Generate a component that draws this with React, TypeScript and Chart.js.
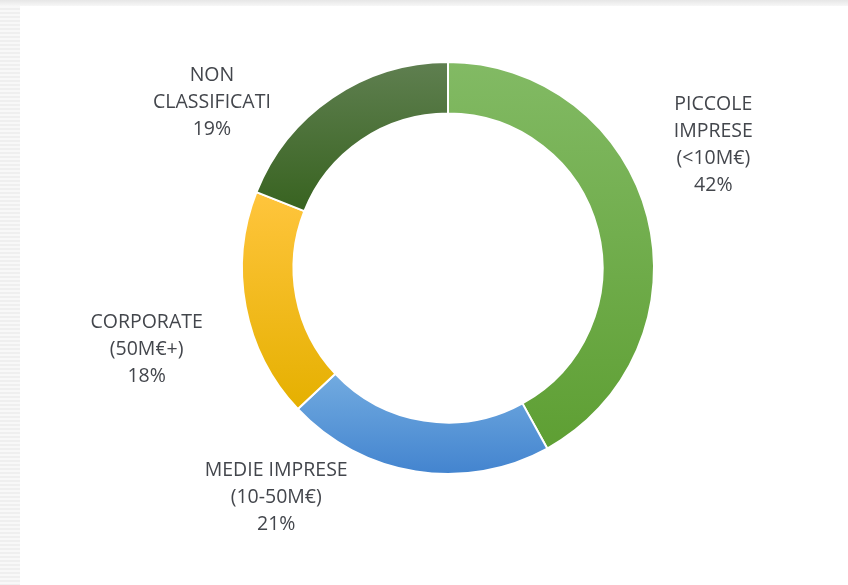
import React, { useEffect, useRef } from "react";
import { Chart, registerables } from "chart.js";

Chart.register(...registerables);

// ---- data ----
const categories: string[][] = [
  ["PICCOLE", "IMPRESE", "(<10M€)"],
  ["MEDIE IMPRESE", "(10-50M€)"],
  ["CORPORATE", "(50M€+)"],
  ["NON", "CLASSIFICATI"],
];
const values: number[] = [42, 21, 18, 19];
const percentLabels: string[] = ["42%", "21%", "18%", "19%"];

// ---- styles ----
const topColors = ["#82ba64", "#72abe0", "#ffc53d", "#5f7f50"];
const bottomColors = ["#5e9f33", "#4384cf", "#e5b000", "#386320"];
// label centre relative to chart centre, in units of outer radius
const labelOffsets: [number, number][] = [
  [1.288, -0.595],
  [-0.834, 1.112],
  [-1.463, 0.395],
  [-1.146, -0.805],
];
const FONT = "19.5px 'Open Sans', 'Noto Sans', sans-serif";
const LINE_H = 27;

const bgPlugin = {
  id: "bg",
  beforeDraw(chart: any) {
    const { ctx, width, height } = chart;
    ctx.save();
    ctx.fillStyle = "#ffffff";
    ctx.fillRect(0, 0, width, height);
    for (let y = 0; y < height; y += 4) {
      ctx.fillStyle = "#efefef";
      ctx.fillRect(0, y, 20, 2);
      ctx.fillStyle = "#f8f8f8";
      ctx.fillRect(0, y + 2, 20, 2);
    }
    const g = ctx.createLinearGradient(0, 0, 0, 6);
    g.addColorStop(0, "#e6e6e6");
    g.addColorStop(1, "#f7f7f7");
    ctx.fillStyle = g;
    ctx.fillRect(0, 0, width, 6);
    ctx.restore();
  },
};

const gradientPlugin = {
  id: "sliceGradient",
  beforeDatasetDraw(chart: any, args: any) {
    const meta = args.meta;
    const ctx = chart.ctx;
    meta.data.forEach((arc: any, i: number) => {
      const { y, startAngle, endAngle, outerRadius, innerRadius } = arc;
      let minY = Infinity;
      let maxY = -Infinity;
      const steps = 60;
      for (let s = 0; s <= steps; s++) {
        const a = startAngle + ((endAngle - startAngle) * s) / steps;
        for (const r of [outerRadius, innerRadius]) {
          const py = y + Math.sin(a) * r;
          minY = Math.min(minY, py);
          maxY = Math.max(maxY, py);
        }
      }
      const g = ctx.createLinearGradient(0, minY, 0, maxY);
      g.addColorStop(0, topColors[i]);
      g.addColorStop(1, bottomColors[i]);
      arc.options.backgroundColor = g;
    });
  },
};

const labelPlugin = {
  id: "sliceLabels",
  afterDatasetsDraw(chart: any) {
    const meta = chart.getDatasetMeta(0);
    const ctx = chart.ctx;
    ctx.save();
    ctx.font = FONT;
    ctx.fillStyle = "#43464c";
    ctx.textAlign = "center";
    ctx.textBaseline = "middle";
    meta.data.forEach((arc: any, i: number) => {
      const r = arc.outerRadius;
      const cx = arc.x + labelOffsets[i][0] * r;
      const cy = arc.y + labelOffsets[i][1] * r;
      const lines = [...categories[i], percentLabels[i]];
      const y0 = cy - ((lines.length - 1) * LINE_H) / 2;
      lines.forEach((t, k) => ctx.fillText(t, cx, y0 + k * LINE_H));
    });
    ctx.restore();
  },
};

export default function App() {
  const ref = useRef<HTMLCanvasElement | null>(null);
  useEffect(() => {
    if (!ref.current) return;
    const chart = new Chart(ref.current, {
      type: "doughnut",
      data: {
        labels: categories.map((c) => c.join(" ")),
        datasets: [
          {
            data: values,
            backgroundColor: topColors,
            borderColor: "#ffffff",
            borderWidth: 2,
          },
        ],
      },
      options: {
        responsive: false,
        animation: false,
        cutout: "75%",
        layout: { padding: { left: 241, right: 193, top: 61, bottom: 110 } },
        plugins: {
          legend: { display: false },
          tooltip: { enabled: false },
          title: { display: false },
        },
      },
      plugins: [bgPlugin, gradientPlugin, labelPlugin],
    });
    return () => chart.destroy();
  }, []);
  return (
    <div style={{ position: "absolute", left: 0, top: 0, width: 848, height: 585 }}>
      <canvas ref={ref} width={848} height={585} />
    </div>
  );
}
